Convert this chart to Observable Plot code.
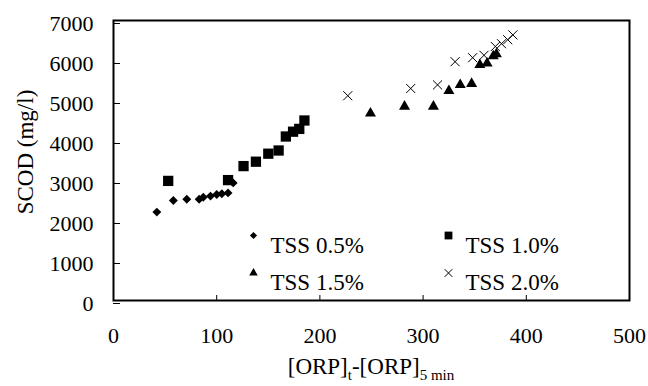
<!DOCTYPE html>
<html>
<head>
<meta charset="utf-8">
<script src="https://cdn.jsdelivr.net/npm/d3@7"></script>
<script src="https://cdn.jsdelivr.net/npm/@observablehq/plot@0.6"></script>
<style>
  body { margin: 0; background: #fff; }
  #chart svg { display: block; }
</style>
</head>
<body>
<div id="chart"></div>
<script>
// SCOD versus ORP change, four total-solids levels
const seriesNames = ["TSS 0.5%", "TSS 1.0%", "TSS 1.5%", "TSS 2.0%"];

const orp05  = [42, 58, 71, 83, 87, 94, 100, 105, 111, 116];
const scod05 = [2210, 2500, 2530, 2530, 2580, 2610, 2650, 2670, 2690, 2940];

const orp10  = [53, 111, 126, 138, 150, 160, 167, 174, 180, 185];
const scod10 = [2990, 3010, 3360, 3470, 3670, 3750, 4100, 4220, 4290, 4500];

const orp15  = [249, 282, 310, 325, 336, 347, 355, 362, 368, 371];
const scod15 = [4680, 4850, 4850, 5240, 5390, 5420, 5890, 5930, 6110, 6160];

const orp20  = [227, 288, 314, 331, 348, 359, 370, 376, 382, 387];
const scod20 = [5120, 5300, 5390, 5970, 6070, 6130, 6350, 6420, 6520, 6640];

const xTicks = [0, 100, 200, 300, 400, 500];
const yTicks = [0, 1000, 2000, 3000, 4000, 5000, 6000, 7000];

const seriesX = [orp05, orp10, orp15, orp20];
const seriesY = [scod05, scod10, scod15, scod20];

const font = "Liberation Serif, Times New Roman, serif";

// marker styling per series
const styles = [
  {symbol: "diamond2", r: 4.0, fill: "black", stroke: "none"},
  {symbol: "square",   r: 5.8, fill: "black", stroke: "none"},
  {symbol: "triangle", r: 4.1, fill: "black", stroke: "none"},
  {symbol: "times",    r: 4.2, fill: "none",  stroke: "black", strokeWidth: 1}
];
const legendStyles = [
  {symbol: "diamond2", r: 3.2, fill: "black", stroke: "none"},
  {symbol: "square",   r: 4.4, fill: "black", stroke: "none"},
  {symbol: "triangle", r: 3.2, fill: "black", stroke: "none"},
  {symbol: "times",    r: 3.6, fill: "none",  stroke: "black", strokeWidth: 1}
];

const rows = seriesNames.map((name, i) =>
  seriesX[i].map((x, j) => ({series: name, orp: x, scod: seriesY[i][j]}))
);

const marks = [];
rows.forEach((data, i) => {
  marks.push(Plot.dot(data, {x: "orp", y: "scod", ...styles[i]}));
});

// legend inside the plot area, two columns by two rows
seriesNames.forEach((name, i) => {
  const col = i % 2, row = Math.floor(i / 2);
  const dx = 140 + col * 195;
  const dy = 215 + row * 37.5;
  marks.push(Plot.dot([name], {frameAnchor: "top-left", dx, dy, ...legendStyles[i]}));
  marks.push(Plot.text([name], {
    frameAnchor: "top-left", dx: dx + 17, dy: dy + 1, text: d => d,
    textAnchor: "start", fontSize: 23, fill: "black"
  }));
});

marks.push(Plot.axisX({
  ticks: xTicks, tickFormat: d => String(d), tickSize: -5, tickPadding: 32,
  fontSize: 22, label: null, stroke: "black", fill: "black"
}));
marks.push(Plot.axisY({
  ticks: yTicks, tickFormat: d => String(d), tickSize: -7, tickPadding: 27, dy: 3,
  fontSize: 22, label: null, stroke: "black", fill: "black"
}));
marks.push(Plot.frame({stroke: "black", strokeWidth: 2}));

const plot = Plot.plot({
  width: 648,
  height: 386,
  marginLeft: 113,
  marginRight: 19,
  marginTop: 20,
  marginBottom: 86,
  x: {domain: [0, 500]},
  y: {domain: [0, 7000]},
  style: {fontSize: "22px", color: "black", background: "white"},
  marks
});

// axis titles, with subscripts on the x title
const svg = d3.select(plot);
const xr = plot.scale("x").range;
const yr = plot.scale("y").range;
const xMid = (xr[0] + xr[1]) / 2;
const yMid = (yr[0] + yr[1]) / 2;

const xt = svg.append("text")
  .attr("x", xMid).attr("y", 374)
  .attr("text-anchor", "middle")
  .attr("font-size", 23).attr("fill", "black");
xt.append("tspan").text("[ORP]");
xt.append("tspan").attr("font-size", 15).attr("dy", 6).text("t");
xt.append("tspan").attr("dy", -6).text("-[ORP]");
xt.append("tspan").attr("font-size", 15).attr("dy", 6).text("5 min");

svg.append("text")
  .attr("transform", `translate(33,${yMid - 8}) rotate(-90)`)
  .attr("text-anchor", "middle")
  .attr("font-size", 23).attr("fill", "black")
  .text("SCOD (mg/l)");

// one serif face for every label in the chart
svg.attr("font-family", font).style("font-family", font);
svg.selectAll("g, text, tspan").attr("font-family", font).style("font-family", font);

document.getElementById("chart").appendChild(plot);
</script>
</body>
</html>
